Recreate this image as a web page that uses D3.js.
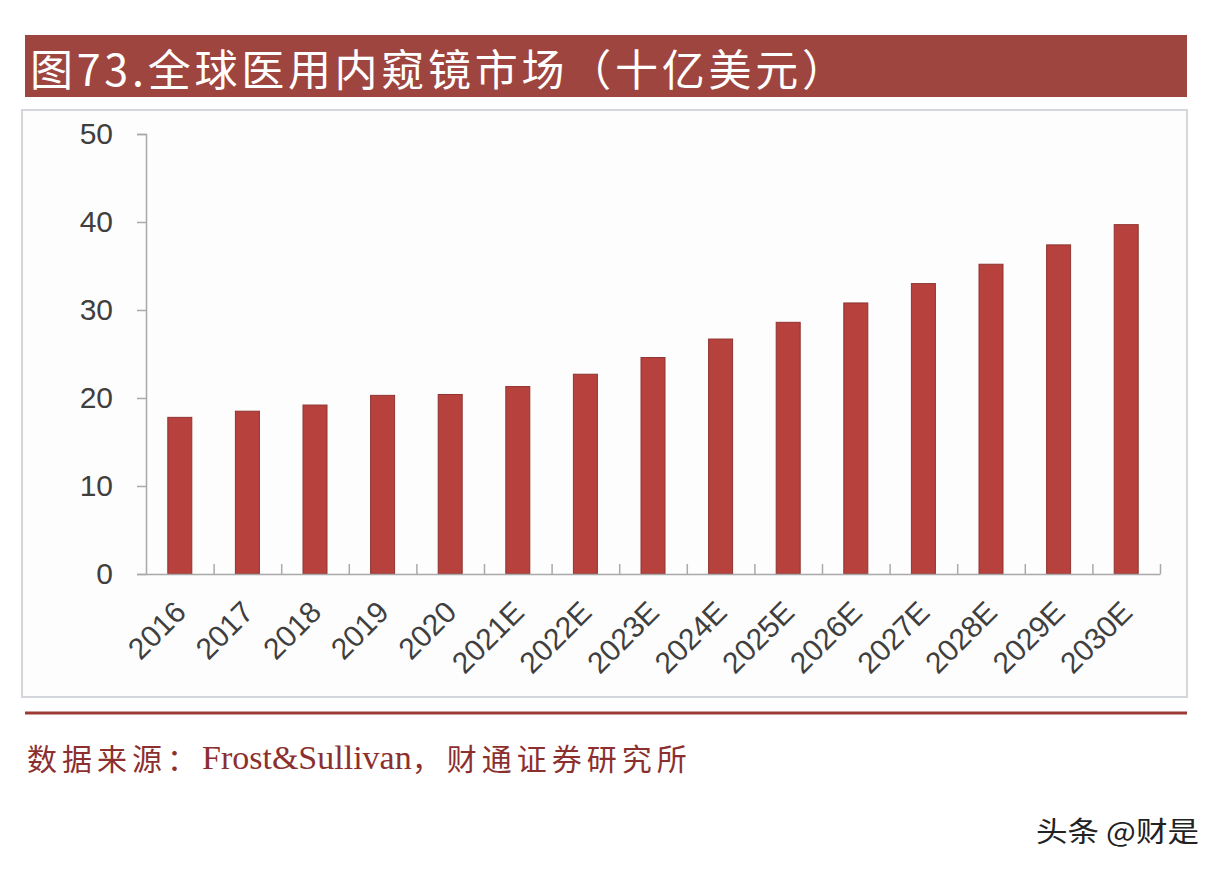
<!DOCTYPE html>
<html>
<head>
<meta charset="utf-8">
<script src="https://cdnjs.cloudflare.com/ajax/libs/d3/7.8.5/d3.min.js"></script>
<style>
  html, body { margin: 0; padding: 0; background: #fff; }
  svg { display: block; }
</style>
</head>
<body>
<div id="chart"></div>
<script>
// data (billion USD)
var years = ["2016", "2017", "2018", "2019", "2020", "2021E", "2022E", "2023E",
             "2024E", "2025E", "2026E", "2027E", "2028E", "2029E", "2030E"];
var marketSize = [17.8, 18.5, 19.2, 20.3, 20.4, 21.3, 22.7, 24.6,
                  26.7, 28.6, 30.8, 33.0, 35.2, 37.4, 39.7];
var yTicks = [0, 10, 20, 30, 40, 50];

var titleText = "图73.全球医用内窥镜市场（十亿美元）";
var sourceParts = ["数据来源：", "Frost&Sullivan", "，财通证券研究所"];
var watermark = "头条 @财是";

width = 1224;
height = 870;

barColor = "#b7413d";
barStroke = "#8f3431";
axisColor = "#a9a9a9";
headColor = "#9e4540";

svg = d3.select("#chart").append("svg")
    .attr("width", width)
    .attr("height", height);

/* title bar */
svg.append("rect")
    .attr("x", 25).attr("y", 35)
    .attr("width", 1162).attr("height", 62)
    .attr("fill", headColor);

svg.append("text")
    .attr("x", 30).attr("y", 67)
    .attr("dominant-baseline", "central")
    .attr("textLength", 815)
    .attr("lengthAdjust", "spacing")
    .style("font-family", "'Noto Sans CJK SC', sans-serif")
    .style("font-size", "43px")
    .style("fill", "#fff")
    .text(titleText);

/* chart frame */
svg.append("rect")
    .attr("x", 22).attr("y", 110)
    .attr("width", 1165).attr("height", 587)
    .attr("fill", "#fdfdfd")
    .attr("stroke", "#d3d7db")
    .attr("stroke-width", 2);

/* scales */
xScale = d3.scaleBand()
    .domain(years)
    .range([146, 1160])
    .paddingInner(0.645)
    .paddingOuter(0.3225);

yScale = d3.scaleLinear()
    .domain([0, 50])
    .range([574, 134]);

// separators between categories
sepScale = d3.scaleLinear().domain([0, years.length]).range([146, 1160]);

/* y axis */
yAxis = svg.append("g")
    .attr("transform", "translate(146,0)")
    .call(d3.axisLeft(yScale).tickValues(yTicks).tickSize(9).tickPadding(24));

yAxis.selectAll("path, line").attr("stroke", axisColor).attr("stroke-width", 1.5);
yAxis.selectAll("text")
    .style("font-family", "'Liberation Sans', Arial, sans-serif")
    .style("font-size", "30px")
    .style("fill", "#3f3f3f");

/* bars */
svg.append("g").selectAll("rect")
    .data(marketSize).enter()
    .append("rect")
    .attr("x", (d, i) => xScale(years[i]))
    .attr("y", d => yScale(d))
    .attr("width", xScale.bandwidth())
    .attr("height", d => yScale(0) - yScale(d))
    .attr("fill", barColor)
    .attr("stroke", barStroke)
    .attr("stroke-width", 1);

/* x axis */
xAxis = svg.append("g")
    .attr("transform", "translate(0,574)")
    .call(d3.axisBottom(sepScale)
        .tickValues(d3.range(1, years.length + 1))
        .tickSize(-10)
        .tickSizeOuter(0)
        .tickFormat(""));

xAxis.selectAll("path, line").attr("stroke", axisColor).attr("stroke-width", 1.5);

svg.append("g").selectAll("text")
    .data(years).enter()
    .append("text")
    .attr("transform", d => `translate(${xScale(d) + xScale.bandwidth() / 2 + 8}, 614) rotate(-45)`)
    .attr("text-anchor", "end")
    .style("font-family", "'Liberation Sans', Arial, sans-serif")
    .style("font-size", "30px")
    .style("fill", "#3f3f3f")
    .text(d => d);

/* bottom red rule and source */
svg.append("line")
    .attr("x1", 25).attr("x2", 1187)
    .attr("y1", 713).attr("y2", 713)
    .attr("stroke", "#9e3a36")
    .attr("stroke-width", 3);

source = svg.append("text")
    .attr("x", 27).attr("y", 757)
    .attr("dominant-baseline", "central")
    .style("fill", "#8c2f2f");

source.selectAll("tspan")
    .data(sourceParts).enter()
    .append("tspan")
    .style("font-family", (d, i) => i == 1 ? "'Liberation Serif', serif" : "'Noto Sans CJK SC', sans-serif")
    .style("font-size", (d, i) => i == 1 ? "34px" : "30px")
    .style("letter-spacing", (d, i) => i == 1 ? "0px" : "5px")
    .text(d => d);

/* watermark */
svg.append("text")
    .attr("x", 1036).attr("y", 830)
    .attr("dominant-baseline", "central")
    .attr("textLength", 163)
    .attr("lengthAdjust", "spacingAndGlyphs")
    .style("font-family", "'Noto Sans CJK SC', sans-serif")
    .style("font-size", "28px")
    .style("fill", "#222")
    .text(watermark);
</script>
</body>
</html>
